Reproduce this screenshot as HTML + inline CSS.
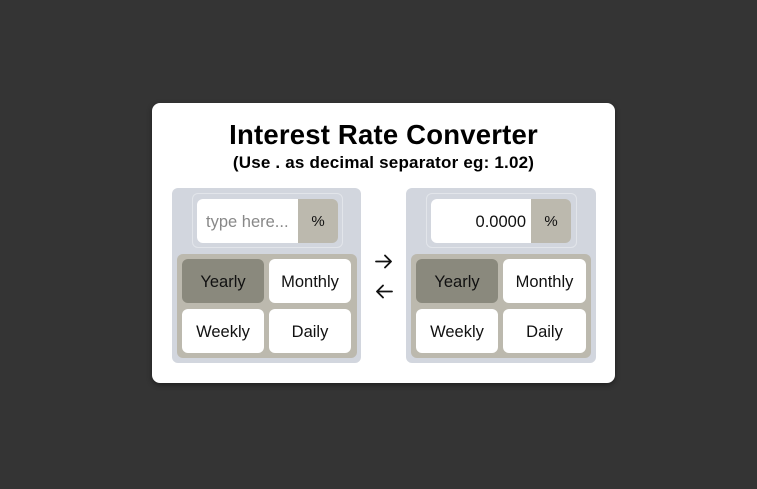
<!DOCTYPE html>
<html><head><style>
*{margin:0;padding:0;box-sizing:border-box}
body{width:757px;height:489px;background:#343434;font-family:"Liberation Sans",sans-serif;position:relative;overflow:hidden}
.card{position:absolute;left:152px;top:103px;width:463px;height:280px;background:#fff;border-radius:8px;box-shadow:0 2px 6px rgba(0,0,0,.4)}
.t{position:absolute;left:0;width:767px;text-align:center;font-weight:bold;color:#000}
.a{position:absolute}
.panel{background:#d2d6de;border-radius:6px}
.ig{border:1px solid #e2e5ea;border-radius:6px}
.in{background:#fff;border-radius:6px 0 0 6px;font-size:16.5px;line-height:46px;color:#111}
.pc{background:#bcb9ae;border-radius:0 6px 6px 0;font-size:15px;line-height:46px;text-align:center;color:#111}
.grid{background:#bcb9ae;border-radius:6px}
.b{background:#fff;border-radius:6px;font-size:16.5px;line-height:46px;text-align:center;color:#111;width:82px;height:44px}
.sel{background:#8a897d}
</style></head><body>
<div class="card"></div>
<div class="t" style="top:118px;font-size:27.5px;line-height:34px;letter-spacing:0.2px">Interest Rate Converter</div>
<div class="t" style="top:153px;font-size:17px;line-height:20px;letter-spacing:0.2px">(Use . as decimal separator eg: 1.02)</div>

<div class="a panel" style="left:172px;top:188px;width:189px;height:175px"></div>
<div class="a ig" style="left:192px;top:193px;width:151px;height:55px"></div>
<div class="a in" style="left:197px;top:199px;width:101px;height:44px;padding-left:9px;color:#888">type here...</div>
<div class="a pc" style="left:298px;top:199px;width:40px;height:44px">%</div>
<div class="a grid" style="left:177px;top:254px;width:180px;height:104px"></div>
<div class="a b sel" style="left:182px;top:259px">Yearly</div>
<div class="a b" style="left:269px;top:259px">Monthly</div>
<div class="a b" style="left:182px;top:309px">Weekly</div>
<div class="a b" style="left:269px;top:309px">Daily</div>

<svg class="a" style="left:374px;top:252px" width="20" height="48" viewBox="0 0 20 48" fill="none" stroke="#111" stroke-width="1.8" stroke-linecap="round" stroke-linejoin="round">
<path d="M2 9.5H17M11 3.5L17 9.5L11 15.5"/>
<path d="M18 39.5H3M9 33.5L3 39.5L9 45.5"/>
</svg>

<div class="a panel" style="left:406px;top:188px;width:190px;height:175px"></div>
<div class="a ig" style="left:426px;top:193px;width:151px;height:55px"></div>
<div class="a in" style="left:431px;top:199px;width:100px;height:44px;text-align:right;padding-right:5px">0.0000</div>
<div class="a pc" style="left:531px;top:199px;width:40px;height:44px">%</div>
<div class="a grid" style="left:411px;top:254px;width:180px;height:104px"></div>
<div class="a b sel" style="left:416px;top:259px">Yearly</div>
<div class="a b" style="left:503px;top:259px;width:83px">Monthly</div>
<div class="a b" style="left:416px;top:309px">Weekly</div>
<div class="a b" style="left:503px;top:309px;width:83px">Daily</div>
</body></html>
